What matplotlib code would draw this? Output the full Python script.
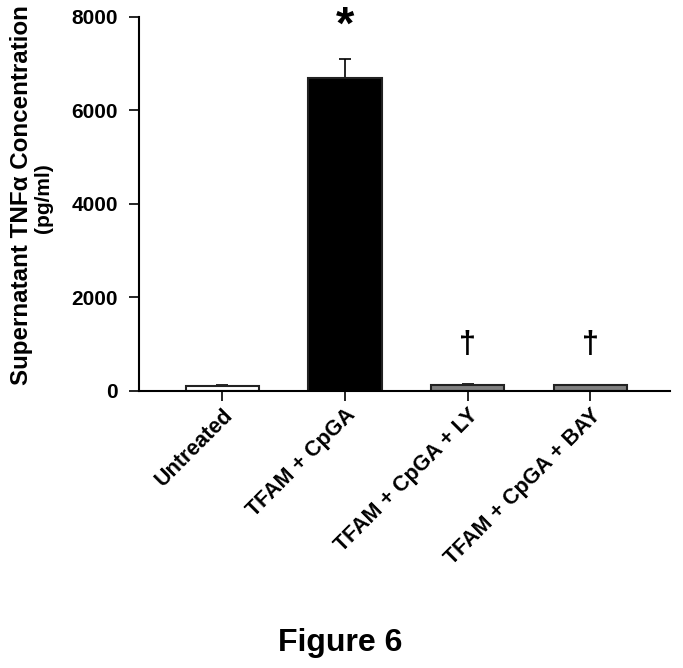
import matplotlib
matplotlib.use("Agg")
import matplotlib.pyplot as plt

categories = ["Untreated", "TFAM + CpGA", "TFAM + CpGA + LY", "TFAM + CpGA + BAY"]
values = [110, 6700, 130, 120]
errors = [20, 400, 25, 15]
colors = ["white", "black", "#808080", "#808080"]
marks = ["", "*", "\u2020", "\u2020"]
yticks = [0, 2000, 4000, 6000, 8000]

plt.rcParams['font.family'] = ['Liberation Sans', 'DejaVu Sans']
plt.rcParams['font.weight'] = 'bold'

fig = plt.figure(figsize=(6.83, 6.68), dpi=100)
ax = fig.add_axes([0.2035, 0.4147, 0.7775, 0.5599])

x = list(range(len(categories)))
ax.bar(x, values, width=0.6, color=colors, edgecolor="#222222", linewidth=1.5, zorder=2)
ax.errorbar(x, values, yerr=[[0]*len(errors), errors], fmt='none', ecolor='black',
            elinewidth=1.2, capsize=4.5, capthick=1.2, zorder=1)

ax.set_xlim(-0.68, 3.65)
ax.set_ylim(0, 8000)
ax.set_yticks(yticks)
ax.set_yticklabels([str(t) for t in yticks], fontsize=15, fontweight='bold')
ax.set_xticks(x)
ax.set_xticklabels(categories, rotation=45, ha='right', va='top', rotation_mode='anchor',
                   fontsize=15.5, fontweight='bold')
for s in ['top', 'right']:
    ax.spines[s].set_visible(False)
for s in ['left', 'bottom']:
    ax.spines[s].set_linewidth(1.5)
ax.tick_params(axis='both', direction='out', length=7, width=1.2)
ax.tick_params(axis='y', pad=8)
ax.tick_params(axis='x', pad=3)

# significance marks
ax.text(1, 7800, marks[1], ha='center', va='center', fontsize=34, fontweight='bold', clip_on=False)
for i in [2, 3]:
    ax.text(i, 990, marks[i], ha='center', va='center', fontsize=22, fontweight='bold')

fig.text(0.031, 0.708, "Supernatant TNF\u03b1 Concentration", rotation=90, ha='center', va='center',
         fontsize=17.4, fontweight='bold')
fig.text(0.063, 0.7036, "(pg/ml)", rotation=90, ha='center', va='center',
         fontsize=15, fontweight='bold')

fig.text(0.498, 0.038, "Figure 6", ha='center', va='center', fontsize=23, fontweight='bold')

fig.savefig("out.png", dpi=100)
